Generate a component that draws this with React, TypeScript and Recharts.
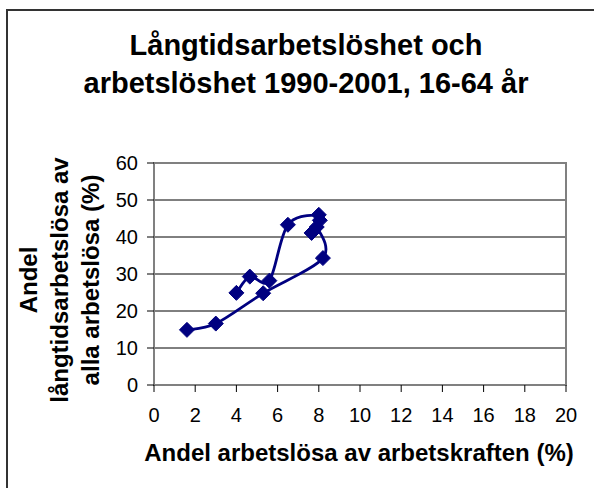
import React from "react";
import {
  ScatterChart,
  Scatter,
  XAxis,
  YAxis,
  CartesianGrid,
  ReferenceArea,
} from "recharts";

const years = [1990, 1991, 1992, 1993, 1994, 1995, 1996, 1997, 1998, 1999, 2000, 2001];
const unemployment = [1.6, 3.0, 5.3, 8.2, 7.9, 7.65, 8.05, 8.0, 6.5, 5.6, 4.65, 4.0];
const longTermShare = [14.9, 16.6, 24.8, 34.3, 42.7, 41.1, 44.5, 46.0, 43.3, 28.2, 29.3, 24.9];
const xTicks = [0, 2, 4, 6, 8, 10, 12, 14, 16, 18, 20];
const yTicks = [0, 10, 20, 30, 40, 50, 60];

const titleLines = ["Långtidsarbetslöshet och", "arbetslöshet 1990-2001, 16-64 år"];
const yTitleLines = ["Andel", "långtidsarbetslösa av", "alla arbetslösa (%)"];
const xTitle = "Andel arbetslösa av arbetskraften (%)";

const data = years.map((year, i) => ({
  year,
  x: unemployment[i],
  y: longTermShare[i],
}));

const FONT = "'Liberation Sans', Arial, sans-serif";
const NAVY = "#000080";

// Excel-like smoothed line (Catmull-Rom style Bezier through the points)
function smoothCurve(context: any) {
  let pts: number[][] = [];
  return {
    areaStart() {},
    areaEnd() {},
    lineStart() {
      pts = [];
    },
    point(x: number, y: number) {
      pts.push([+x, +y]);
    },
    lineEnd() {
      if (!pts.length) return;
      context.moveTo(pts[0][0], pts[0][1]);
      for (let i = 0; i < pts.length - 1; i++) {
        const p0 = pts[i - 1] || pts[i];
        const p1 = pts[i];
        const p2 = pts[i + 1];
        const p3 = pts[i + 2] || p2;
        const c1x = p1[0] + (p2[0] - p0[0]) / 6;
        const c1y = p1[1] + (p2[1] - p0[1]) / 6;
        const c2x = p2[0] - (p3[0] - p1[0]) / 6;
        const c2y = p2[1] - (p3[1] - p1[1]) / 6;
        context.bezierCurveTo(c1x, c1y, c2x, c2y, p2[0], p2[1]);
      }
    },
  };
}

const Diamond = (props: any) => {
  const { cx, cy } = props;
  if (cx == null || cy == null) return null;
  const r = 7.5;
  return (
    <polygon
      points={`${cx},${cy - r} ${cx + r},${cy} ${cx},${cy + r} ${cx - r},${cy}`}
      fill={NAVY}
      stroke={NAVY}
      strokeWidth={1}
    />
  );
};

export default function App() {
  return (
    <div style={{ position: "absolute", left: 0, top: 0, width: 594, height: 488, background: "#fff" }}>
      <ScatterChart
        width={594}
        height={488}
        margin={{ top: 163, right: 28, bottom: 0, left: 0 }}
      >
        <CartesianGrid horizontal vertical={false} stroke="#000" strokeWidth={1} />
        <ReferenceArea
          x1={0}
          x2={20}
          y1={0}
          y2={60}
          fill="none"
          fillOpacity={0}
          stroke="#808080"
          strokeWidth={2}
        />
        <XAxis
          type="number"
          dataKey="x"
          domain={[0, 20]}
          ticks={xTicks}
          interval={0}
          height={103}
          tickSize={7}
          tickMargin={16}
          axisLine={{ stroke: "#808080", strokeWidth: 2 }}
          tickLine={{ stroke: "#000", strokeWidth: 1 }}
          tick={{ fill: "#000", fontSize: 20, fontFamily: FONT }}
          allowDataOverflow
        />
        <YAxis
          type="number"
          dataKey="y"
          domain={[0, 60]}
          ticks={yTicks}
          interval={0}
          width={154}
          tickSize={7}
          tickMargin={9}
          axisLine={{ stroke: "#808080", strokeWidth: 2 }}
          tickLine={{ stroke: "#000", strokeWidth: 1 }}
          tick={{ fill: "#000", fontSize: 20, fontFamily: FONT }}
          allowDataOverflow
        />
        <Scatter
          data={data}
          fill={NAVY}
          line={{ stroke: NAVY, strokeWidth: 2.8 }}
          lineType="joint"
          lineJointType={smoothCurve as any}
          shape={Diamond}
          isAnimationActive={false}
        />
      </ScatterChart>
      <svg
        width={594}
        height={488}
        style={{ position: "absolute", left: 0, top: 0, pointerEvents: "none" }}
      >
        <rect x={7} y={10} width={800} height={800} fill="none" stroke="#333" strokeWidth={2} />
        {titleLines.map((t, i) => (
          <text
            key={t}
            x={306}
            y={55 + i * 38}
            textAnchor="middle"
            fontFamily={FONT}
            fontWeight="bold"
            fontSize={29}
            fill="#000"
          >
            {t}
          </text>
        ))}
        {yTitleLines.map((t, i) => (
          <text
            key={t}
            transform={`translate(${37 + i * 31}, 280) rotate(-90)`}
            textAnchor="middle"
            fontFamily={FONT}
            fontWeight="bold"
            fontSize={24}
            fill="#000"
          >
            {t}
          </text>
        ))}
        <text
          x={359}
          y={461}
          textAnchor="middle"
          fontFamily={FONT}
          fontWeight="bold"
          fontSize={24}
          fill="#000"
        >
          {xTitle}
        </text>
      </svg>
    </div>
  );
}
